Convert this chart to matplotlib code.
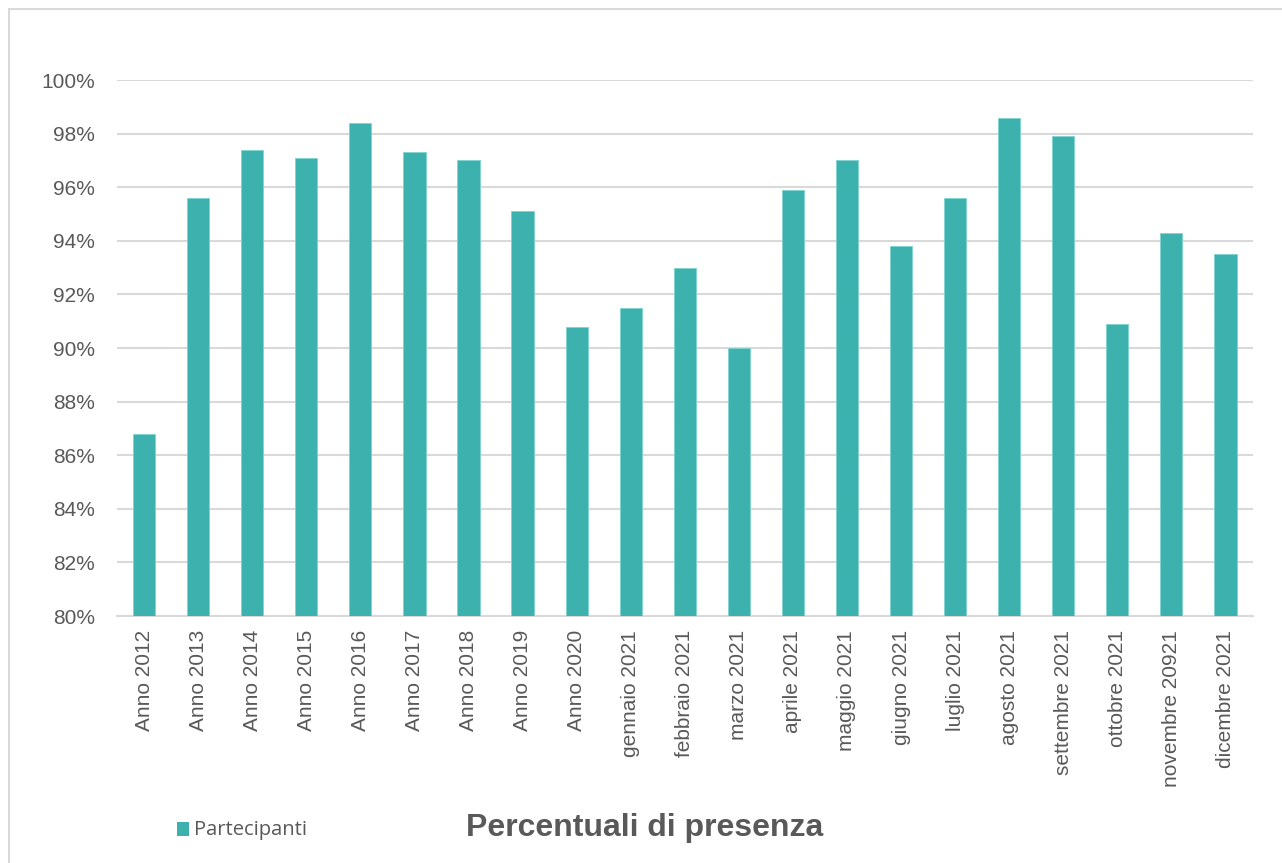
import numpy as np
import matplotlib.pyplot as plt
from matplotlib.patches import Rectangle
from matplotlib.ticker import FuncFormatter

categorie = ['Anno 2012', 'Anno 2013', 'Anno 2014', 'Anno 2015', 'Anno 2016',
             'Anno 2017', 'Anno 2018', 'Anno 2019', 'Anno 2020',
             'gennaio 2021', 'febbraio 2021', 'marzo 2021', 'aprile 2021',
             'maggio 2021', 'giugno 2021', 'luglio 2021', 'agosto 2021',
             'settembre 2021', 'ottobre 2021', 'novembre 20921', 'dicembre 2021']
partecipanti = [86.8, 95.6, 97.4, 97.1, 98.4, 97.3, 97.0, 95.1, 90.8,
                91.5, 93.0, 90.0, 95.9, 97.0, 93.8, 95.6, 98.6, 97.9,
                90.9, 94.3, 93.5]
yticks = [80, 82, 84, 86, 88, 90, 92, 94, 96, 98, 100]

plt.rcParams['font.family'] = ['Liberation Sans', 'DejaVu Sans']
grigio = '#595959'
colore = '#3CB1AE'

fig = plt.figure(figsize=[12.82, 8.63], dpi=100)
# cornice esterna del grafico
fig.patches.append(Rectangle((0.007, -0.01), 1.2, 0.999, transform=fig.transFigure,
                             fill=False, edgecolor='#D9D9D9', linewidth=1.5))

ax = fig.add_axes([0.0913, 0.2862, 0.8857, 0.6211])
x = np.arange(len(categorie))
ax.bar(x, partecipanti, width=0.41, color=colore, edgecolor='#7FD3CF',
       linewidth=0.6, zorder=3)

ax.set_xlim(-0.5, len(categorie) - 0.5)
ax.set_ylim(80, 100)
ax.set_yticks(yticks)
ax.yaxis.set_major_formatter(FuncFormatter(lambda v, p: '%d%%' % v))
ax.set_xticks(x)
ax.set_xticklabels(categorie, rotation=90)
ax.tick_params(axis='x', length=0, labelsize=15, colors=grigio, pad=10)
ax.tick_params(axis='y', length=0, labelsize=15, colors=grigio, pad=16)
ax.grid(axis='y', color='#D9D9D9', linewidth=1.5, zorder=0)
for s in ['top', 'right', 'left']:
    ax.spines[s].set_visible(False)
ax.spines['bottom'].set_color('#D9D9D9')
ax.spines['bottom'].set_linewidth(1.5)

fig.text(0.503, 0.041, 'Percentuali di presenza', ha='center', va='center',
         fontsize=23, fontweight='bold', color=grigio)
fig.patches.append(Rectangle((0.138, 0.031), 0.0094, 0.016, transform=fig.transFigure,
                             facecolor=colore, edgecolor='none'))
fig.text(0.151, 0.038, 'Partecipanti', ha='left', va='center',
         fontsize=14.5, color=grigio, family=['Open Sans', 'DejaVu Sans'])

fig.savefig('out.png', dpi=100)
